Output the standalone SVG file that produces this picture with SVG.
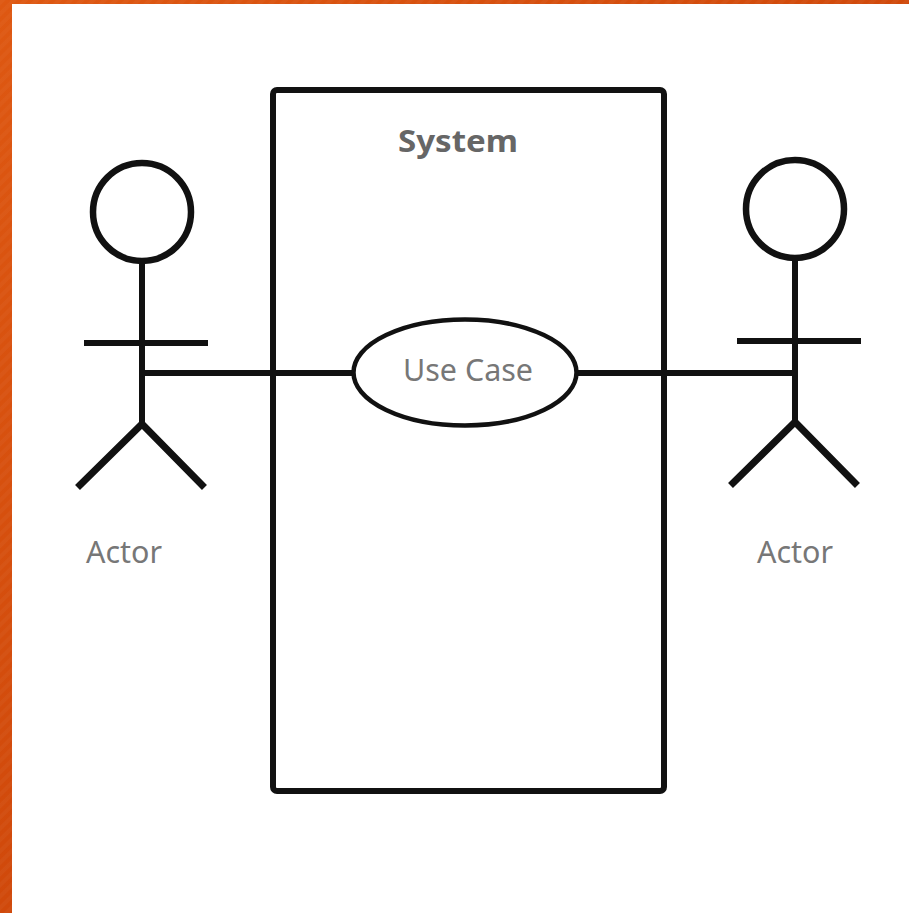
<svg xmlns="http://www.w3.org/2000/svg" width="909" height="913" viewBox="0 0 909 913">
<defs>
<linearGradient id="edge" gradientUnits="userSpaceOnUse" x1="0" y1="0" x2="909" y2="913"><stop offset="0" stop-color="#de5812"/><stop offset="1" stop-color="#c23a04"/></linearGradient>
<pattern id="stripes" width="8" height="8" patternUnits="userSpaceOnUse" patternTransform="rotate(45)"><rect width="4" height="8" fill="#fff" fill-opacity="0.03"/></pattern>
</defs>
<style>
.l{fill:none;stroke:#111;stroke-width:6;stroke-linecap:square;stroke-linejoin:miter}
.g{stroke-width:7}
.c{fill:#fff;stroke:#111}
.t{font-family:"Noto Sans","Open Sans",sans-serif;font-size:31px;fill:#777;text-anchor:middle}
.b{font-family:"Noto Sans","Open Sans",sans-serif;font-size:31px;font-weight:700;fill:#666;text-anchor:middle}
</style>
<rect width="909" height="913" fill="#fff"/>
<path id="frame" d="M0 0H909V4H12V913H0Z" fill="url(#edge)"/>
<path d="M0 0H909V4H12V913H0Z" fill="url(#stripes)"/>
<g id="system"><rect x="273" y="90" width="391" height="701" rx="4" fill="#fff" stroke="#111" stroke-width="6"/>
<text x="458" y="152" class="b" textLength="120" lengthAdjust="spacingAndGlyphs">System</text></g>
<g id="connectors">
<path class="l" d="M147 373H354"/><path class="l" d="M577 373H790"/>
</g>
<g id="use-case"><ellipse class="c" stroke-width="4.5" cx="465" cy="372.5" rx="111.5" ry="53"/><text x="468" y="381" class="t" textLength="130" lengthAdjust="spacingAndGlyphs">Use Case</text></g>
<g id="actor-left"><circle class="c" stroke-width="6.5" cx="142" cy="212" r="49"/><path class="l" d="M142 262V424M87 343H205"/><path class="l g" d="M80 485L142 424L202 485"/><text x="124" y="563" class="t" textLength="76" lengthAdjust="spacingAndGlyphs">Actor</text></g>
<g id="actor-right"><circle class="c" stroke-width="6.5" cx="795" cy="209" r="49"/><path class="l" d="M795 259V422M740 341H858"/><path class="l g" d="M733 483L795 422L855 483"/><text x="795" y="563" class="t" textLength="76" lengthAdjust="spacingAndGlyphs">Actor</text></g>
</svg>
